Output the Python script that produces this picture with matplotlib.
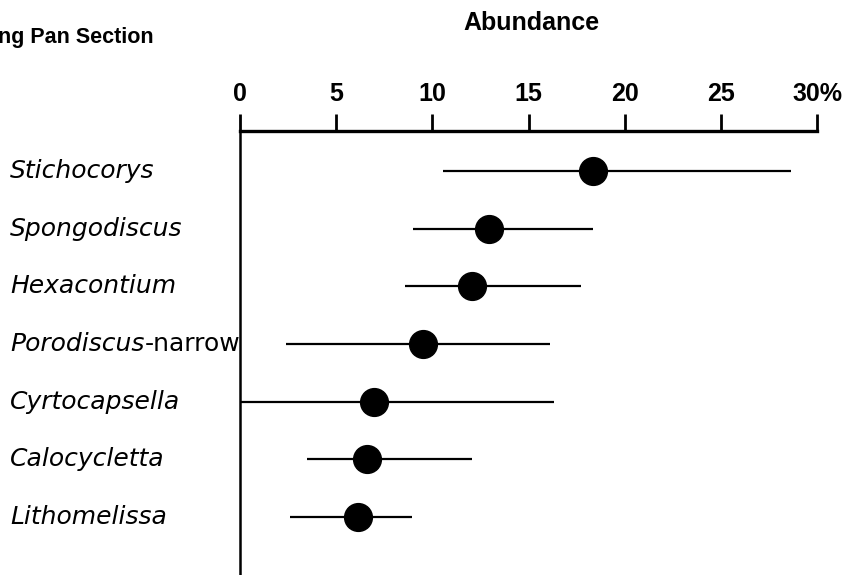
import matplotlib
matplotlib.use("Agg")
import matplotlib.pyplot as plt
import matplotlib.transforms as mtransforms

plt.rcParams['font.family'] = ['Liberation Sans', 'DejaVu Sans']

# Radiolarian genera with mean abundance and observed range (%)
genera = ["Stichocorys", "Spongodiscus", "Hexacontium", "Porodiscus",
          "Cyrtocapsella", "Calocycletta", "Lithomelissa"]
suffix = ["", "", "", "-narrow", "", "", ""]
mean_pct = [18.35, 12.95, 12.06, 9.53, 6.98, 6.58, 6.15]
low_pct = [10.57, 8.99, 8.57, 2.41, 0.0, 3.46, 2.60]
high_pct = [28.66, 18.35, 17.71, 16.12, 16.35, 12.06, 8.95]
tick_values = [0, 5, 10, 15, 20, 25, 30]
tick_labels = ["0", "5", "10", "15", "20", "25", "30%"]

W, H = 856, 575
fig = plt.figure(figsize=(W / 100, H / 100), dpi=100)
ax = fig.add_axes([240 / W, 0.0, (817 - 240) / W, 1 - 131 / H])

rows = list(range(len(genera)))
for i in rows:
    ax.plot([low_pct[i], high_pct[i]], [i, i], color="black", lw=1.6,
            solid_capstyle="butt", zorder=2, clip_on=False)
ax.plot(mean_pct, rows, "o", color="black", markersize=20, zorder=3,
        clip_on=False)

ax.set_xlim(0, 30)
ax.set_ylim(7.01, -0.70)

for side in ("right", "bottom"):
    ax.spines[side].set_visible(False)
ax.spines["top"].set_linewidth(2.4)
ax.spines["left"].set_linewidth(1.8)

ax.xaxis.set_ticks_position("top")
ax.set_xticks(tick_values)
ax.set_xticklabels(tick_labels, fontsize=18, fontweight="bold")
ax.tick_params(axis="x", direction="out", length=12.5, width=2.0, pad=5.5)
ax.set_yticks([])

# Genus names to the left of the axis
label_font = ['DejaVu Sans']
label_tr = mtransforms.blended_transform_factory(fig.transFigure, ax.transData)
for i, name in enumerate(genera):
    t = ax.text(10 / W, i, name, fontsize=18, fontstyle="italic",
                family=label_font, ha="left", va="center",
                transform=label_tr)
    if suffix[i]:
        ax.annotate(suffix[i], xy=(1, 0), xycoords=t, fontsize=18,
                    family=label_font, ha="left", va="bottom")

fig.text(531 / W, 1 - 23 / H, "Abundance", fontsize=18, fontweight="bold",
         ha="center", va="center")
fig.text(-0.002, 1 - 37 / H, "ng Pan Section", fontsize=15.5,
         fontweight="bold", ha="left", va="center")

fig.savefig("out.png", dpi=100)
